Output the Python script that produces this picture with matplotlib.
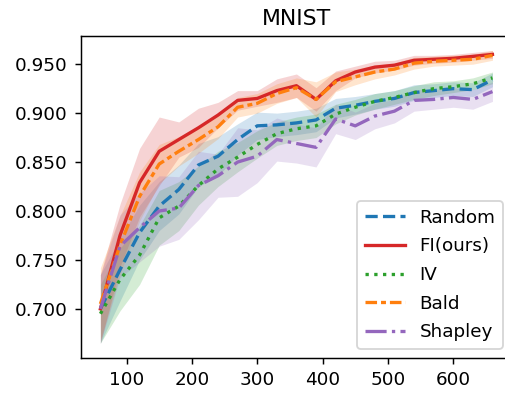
import matplotlib
matplotlib.use('Agg')
import matplotlib.pyplot as plt
from matplotlib.ticker import FormatStrFormatter
import numpy as np

# labelled samples
x = [60, 90, 120, 150, 180, 210, 240, 270, 300, 330, 360, 390, 420, 450, 480, 510, 540, 570, 600, 630, 660]

random_mean = [0.700, 0.740, 0.778, 0.805, 0.822, 0.847, 0.856, 0.873, 0.887, 0.888, 0.890, 0.893, 0.905, 0.908, 0.912, 0.915, 0.921, 0.923, 0.925, 0.924, 0.934]
random_std  = [0.035, 0.032, 0.028, 0.025, 0.025, 0.022, 0.020, 0.016, 0.014, 0.012, 0.012, 0.012, 0.010, 0.009, 0.008, 0.008, 0.008, 0.007, 0.007, 0.007, 0.007]

fi_mean = [0.700, 0.775, 0.829, 0.861, 0.873, 0.885, 0.898, 0.913, 0.915, 0.923, 0.928, 0.914, 0.933, 0.942, 0.947, 0.949, 0.954, 0.955, 0.956, 0.958, 0.960]
fi_std  = [0.035, 0.032, 0.035, 0.035, 0.018, 0.020, 0.013, 0.010, 0.008, 0.012, 0.012, 0.012, 0.010, 0.006, 0.006, 0.005, 0.005, 0.004, 0.004, 0.004, 0.004]

iv_mean = [0.695, 0.730, 0.755, 0.793, 0.805, 0.826, 0.843, 0.855, 0.868, 0.879, 0.884, 0.887, 0.899, 0.906, 0.912, 0.916, 0.921, 0.925, 0.927, 0.930, 0.936]
iv_std  = [0.030, 0.032, 0.030, 0.028, 0.025, 0.020, 0.018, 0.015, 0.014, 0.012, 0.012, 0.012, 0.010, 0.008, 0.008, 0.007, 0.007, 0.007, 0.006, 0.006, 0.006]

bald_mean = [0.705, 0.765, 0.815, 0.848, 0.861, 0.873, 0.886, 0.906, 0.910, 0.920, 0.926, 0.914, 0.932, 0.937, 0.942, 0.945, 0.951, 0.953, 0.954, 0.955, 0.959]
bald_std  = [0.037, 0.030, 0.025, 0.020, 0.015, 0.014, 0.012, 0.010, 0.010, 0.010, 0.010, 0.018, 0.010, 0.008, 0.007, 0.006, 0.006, 0.005, 0.005, 0.005, 0.005]

shap_mean = [0.700, 0.764, 0.783, 0.800, 0.803, 0.826, 0.836, 0.850, 0.856, 0.873, 0.869, 0.865, 0.894, 0.887, 0.897, 0.902, 0.913, 0.914, 0.916, 0.914, 0.922]
shap_std  = [0.035, 0.032, 0.035, 0.036, 0.032, 0.035, 0.022, 0.035, 0.027, 0.022, 0.020, 0.020, 0.015, 0.014, 0.013, 0.012, 0.011, 0.010, 0.010, 0.010, 0.010]

names = ['Random', 'FI(ours)', 'IV', 'Bald', 'Shapley']
means = [random_mean, fi_mean, iv_mean, bald_mean, shap_mean]
stds = [random_std, fi_std, iv_std, bald_std, shap_std]
colors = ['#1f77b4', '#d62728', '#2ca02c', '#ff7f0e', '#9467bd']
styles = ['--', '-', ':', (0, (3.5, 1.2, 1.5, 1.2)), '-.']

fig = plt.figure(figsize=(505/132, 394/132), dpi=132)
ax = fig.add_axes([0.160, 0.092, 0.854, 0.817])

for name, m, s, c, ls in zip(names, means, stds, colors, styles):
    m = np.array(m)
    s = np.array(s)
    ax.plot(x, m, color=c, linestyle=ls, linewidth=1.8, label=name)
    ax.fill_between(x, m - s, m + s, color=c, alpha=0.2, linewidth=0)

ax.set_title('MNIST')
ax.yaxis.set_major_formatter(FormatStrFormatter('%.3f'))
ax.set_xticks([100, 200, 300, 400, 500, 600])
ax.legend(loc='lower right', handlelength=2.2, labelspacing=0.58)

fig.savefig('out.png', dpi=132)
